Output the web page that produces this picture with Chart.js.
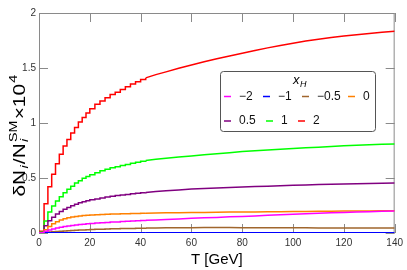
<!DOCTYPE html>
<html>
<head>
<meta charset="utf-8">
<script src="https://cdn.jsdelivr.net/npm/chart.js@4"></script>
<style>
  html, body { margin: 0; padding: 0; background: #fff; }
  #wrap { width: 407px; height: 270px; }
</style>
</head>
<body>
<div id="wrap"><canvas id="c" width="407" height="270"></canvas></div>
<script>
// temperature grid (GeV)
const T = [0, 2, 3.5, 5, 6.5, 8, 9.5, 11, 12.5, 14, 15.5, 17, 18.5, 20, 22, 24, 26, 28, 30, 32, 34, 36, 38, 40, 42,
  46, 50, 55, 60, 65, 70, 75, 80, 85, 90, 95, 100, 105, 110, 115, 120, 125, 130, 135, 140];
// the staircase of the curves is only visible up to this temperature
const stepEndT = 42;

const xhLabels = ["\u22122", "\u22121", "\u22120.5", "0", "0.5", "1", "2"];
const xhColors = ["#ff00ff", "#0000ff", "#a0662d", "#ff8000", "#800080", "#00ff00", "#ff0000"];

const xhM2 = [0.002, 0.015, 0.027, 0.037, 0.046, 0.053, 0.059, 0.064, 0.068, 0.073, 0.077, 0.08, 0.083, 0.086, 0.09,
  0.093, 0.096, 0.099, 0.101, 0.104, 0.106, 0.108, 0.111, 0.113, 0.115,
  0.119, 0.123, 0.128, 0.133, 0.138, 0.142, 0.147, 0.151, 0.155, 0.161, 0.166, 0.171, 0.175, 0.179, 0.183, 0.187,
  0.19, 0.194, 0.197, 0.2];
const xhM1 = [0.002, 0.003, 0.003, 0.003, 0.003, 0.003, 0.003, 0.003, 0.003, 0.003, 0.003, 0.003, 0.003, 0.003, 0.003,
  0.003, 0.003, 0.003, 0.003, 0.003, 0.003, 0.003, 0.003, 0.003, 0.003,
  0.003, 0.003, 0.003, 0.003, 0.003, 0.003, 0.003, 0.003, 0.003, 0.003, 0.003, 0.003, 0.003, 0.003, 0.003, 0.003,
  0.003, 0.003, 0.003, 0.003];
const xhM05 = [0, 0.004, 0.008, 0.011, 0.014, 0.017, 0.019, 0.021, 0.023, 0.025, 0.027, 0.028, 0.03, 0.031, 0.033,
  0.035, 0.036, 0.038, 0.039, 0.04, 0.041, 0.042, 0.043, 0.044, 0.045,
  0.046, 0.047, 0.048, 0.048, 0.049, 0.049, 0.049, 0.048, 0.048, 0.048, 0.047, 0.047, 0.047, 0.046, 0.046, 0.046,
  0.045, 0.045, 0.045, 0.045];
const xh0 = [0.005, 0.03, 0.06, 0.085, 0.103, 0.118, 0.13, 0.138, 0.145, 0.15, 0.155, 0.158, 0.161, 0.164, 0.166,
  0.168, 0.17, 0.172, 0.173, 0.174, 0.176, 0.177, 0.178, 0.179, 0.18,
  0.181, 0.183, 0.184, 0.186, 0.187, 0.189, 0.19, 0.191, 0.192, 0.193, 0.194, 0.195, 0.196, 0.197, 0.198, 0.199,
  0.2, 0.201, 0.202, 0.203];
const xh05 = [0.005, 0.065, 0.112, 0.143, 0.172, 0.195, 0.215, 0.232, 0.248, 0.262, 0.275, 0.285, 0.294, 0.302, 0.31,
  0.318, 0.327, 0.334, 0.341, 0.346, 0.351, 0.356, 0.361, 0.365, 0.369,
  0.377, 0.384, 0.392, 0.399, 0.405, 0.41, 0.414, 0.418, 0.422, 0.426, 0.43, 0.434, 0.437, 0.44, 0.443, 0.445,
  0.448, 0.451, 0.453, 0.455];
const xh1 = [0.01, 0.11, 0.19, 0.245, 0.29, 0.33, 0.366, 0.397, 0.425, 0.455, 0.475, 0.497, 0.514, 0.53, 0.547,
  0.565, 0.58, 0.593, 0.603, 0.613, 0.623, 0.633, 0.643, 0.652, 0.66,
  0.67, 0.68, 0.69, 0.7, 0.712, 0.72, 0.73, 0.74, 0.748, 0.755, 0.762, 0.768, 0.774, 0.78, 0.786, 0.793,
  0.798, 0.802, 0.806, 0.81];
const xh2 = [0.015, 0.265, 0.42, 0.535, 0.63, 0.715, 0.79, 0.85, 0.91, 0.96, 1.01, 1.05, 1.09, 1.13, 1.17,
  1.2, 1.23, 1.26, 1.28, 1.305, 1.33, 1.355, 1.375, 1.395, 1.41,
  1.44, 1.465, 1.497, 1.527, 1.557, 1.585, 1.61, 1.635, 1.66, 1.683, 1.705, 1.725, 1.745, 1.762, 1.777, 1.79,
  1.802, 1.814, 1.825, 1.835];

const xTicks = [0, 20, 40, 60, 80, 100, 120, 140];
const yTicks = [0, 0.5, 1, 1.5, 2];

const seriesList = [xhM2, xhM1, xhM05, xh0, xh05, xh1, xh2];

// each series: a stepped part at low T and a plain line after it
const datasets = [];
seriesList.forEach((vals, i) => {
  const pts = vals.map((v, k) => ({ x: T[k], y: v }));
  const base = { borderColor: xhColors[i], borderWidth: 1.5, pointRadius: 0, fill: false };
  datasets.push(Object.assign({ label: xhLabels[i], data: pts.filter((p) => p.x <= stepEndT), stepped: true }, base));
  datasets.push(Object.assign({ label: "", data: pts.filter((p) => p.x >= stepEndT), stepped: false }, base));
});

const FONT = "'Liberation Sans', Arial, sans-serif";

const framePlugin = {
  id: "frame",
  beforeDatasetsDraw(chart) {
    const { ctx, chartArea: a, scales } = chart;
    ctx.save();
    ctx.strokeStyle = "#8a8a8a";
    ctx.lineWidth = 1;
    ctx.strokeRect(a.left + 0.5, a.top + 0.5, a.right - a.left - 1, a.bottom - a.top - 1);
    const len = 9;
    ctx.beginPath();
    xTicks.forEach((v) => {
      const px = Math.round(scales.x.getPixelForValue(v)) + 0.5;
      ctx.moveTo(px, a.bottom);
      ctx.lineTo(px, a.bottom - len);
      ctx.moveTo(px, a.top);
      ctx.lineTo(px, a.top + len);
    });
    yTicks.forEach((v) => {
      const py = Math.round(scales.y.getPixelForValue(v)) + 0.5;
      ctx.moveTo(a.left, py);
      ctx.lineTo(a.left + len, py);
      ctx.moveTo(a.right, py);
      ctx.lineTo(a.right - len, py);
    });
    ctx.stroke();
    ctx.restore();
  },
  afterDraw(chart) {
    const { ctx, chartArea: a } = chart;
    ctx.save();
    ctx.fillStyle = "#000";

    // x axis title
    ctx.font = "15px " + FONT;
    ctx.textAlign = "center";
    ctx.textBaseline = "alphabetic";
    ctx.fillText("T [GeV]", (a.left + a.right) / 2, 264);

    // y axis title, pieces with sub/superscripts
    const big = "16px " + FONT;
    const small = "11px " + FONT;
    const parts = [
      { t: "\u03b4N", f: big, dy: 0 },
      { t: "i", f: "italic " + small, dy: 3 },
      { t: "/N", f: big, dy: 0 },
      { t: "SM", f: small, dy: -8, stack: "i" },
      { t: "\u00d710", f: big, dy: 0 },
      { t: "4", f: small, dy: -8 },
    ];
    let total = 0;
    parts.forEach((p) => {
      ctx.font = p.f;
      p.w = ctx.measureText(p.t).width + 1;
      total += p.w;
    });
    const target = 123;
    ctx.translate(25, 135);
    ctx.rotate(-Math.PI / 2);
    ctx.scale(target / total, 1);
    ctx.textAlign = "left";
    let x = -total / 2;
    parts.forEach((p) => {
      ctx.font = p.f;
      ctx.fillText(p.t, x, p.dy);
      if (p.stack) {
        ctx.font = "italic " + small;
        ctx.fillText(p.stack, x, 3);
      }
      x += p.w;
    });
    ctx.restore();

    // legend box
    ctx.save();
    const bx = 220.5, by = 71.5, bw = 155, bh = 60, r = 3;
    ctx.beginPath();
    ctx.moveTo(bx + r, by);
    ctx.arcTo(bx + bw, by, bx + bw, by + bh, r);
    ctx.arcTo(bx + bw, by + bh, bx, by + bh, r);
    ctx.arcTo(bx, by + bh, bx, by, r);
    ctx.arcTo(bx, by, bx + bw, by, r);
    ctx.closePath();
    ctx.fillStyle = "#fff";
    ctx.fill();
    ctx.strokeStyle = "#555";
    ctx.lineWidth = 1;
    ctx.stroke();

    ctx.fillStyle = "#000";
    ctx.textBaseline = "middle";
    ctx.textAlign = "left";
    ctx.font = "italic 13px " + FONT;
    ctx.fillText("x", 293, 80);
    ctx.font = "italic 9px " + FONT;
    ctx.fillText("H", 300, 84);

    const spots = [
      [224, 96.5], [263, 96.5], [302, 96.5], [348, 96.5],
      [224, 121], [266, 121], [298, 121],
    ];
    ctx.font = "12px " + FONT;
    chart.data.datasets.filter((ds) => ds.label).forEach((ds, i) => {
      const [lx, ly] = spots[i];
      ctx.strokeStyle = ds.borderColor;
      ctx.lineWidth = 1.5;
      ctx.beginPath();
      ctx.moveTo(lx, ly);
      ctx.lineTo(lx + 7, ly);
      ctx.stroke();
      ctx.fillStyle = "#111";
      ctx.fillText(ds.label, lx + 15, ly);
    });
    ctx.restore();
  },
};

new Chart(document.getElementById("c"), {
  type: "line",
  data: { datasets: datasets },
  options: {
    responsive: false,
    animation: false,
    events: [],
    layout: { padding: { top: 13, right: 8, left: 0, bottom: 0 } },
    plugins: { legend: { display: false }, tooltip: { enabled: false } },
    scales: {
      x: {
        type: "linear",
        min: 0,
        max: 140,
        afterFit: (s) => { s.height = 37; },
        afterBuildTicks: (s) => { s.ticks = xTicks.map((v) => ({ value: v })); },
        grid: { display: false, drawTicks: false },
        border: { display: false },
        ticks: { padding: 4, color: "#333", font: { family: FONT, size: 10 }, maxRotation: 0,
          callback: (v) => String(v) },
      },
      y: {
        type: "linear",
        min: 0,
        max: 2,
        afterFit: (s) => { s.width = 39; },
        afterBuildTicks: (s) => { s.ticks = yTicks.map((v) => ({ value: v })); },
        grid: { display: false, drawTicks: false },
        border: { display: false },
        ticks: { padding: 3, color: "#333", font: { family: FONT, size: 10 },
          callback: (v) => String(v) },
      },
    },
  },
  plugins: [framePlugin],
});
</script>
</body>
</html>
